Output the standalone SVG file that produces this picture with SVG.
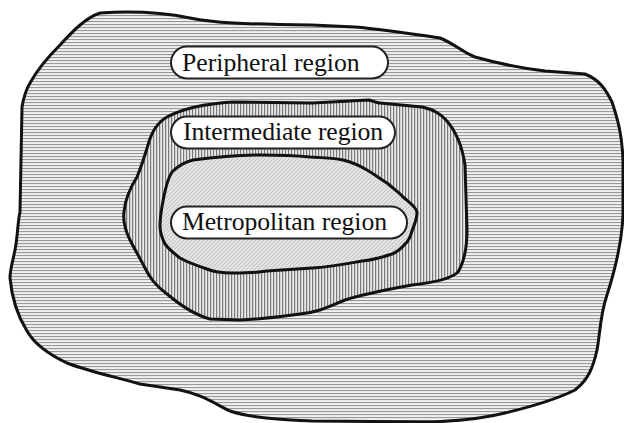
<svg xmlns="http://www.w3.org/2000/svg" width="624" height="423" viewBox="0 0 624 423">
<defs>
<pattern id="hz" width="6" height="3" patternUnits="userSpaceOnUse">
<rect width="6" height="3" fill="#f0f0f0"/>
<rect y="0" width="6" height="1.1" fill="#989898"/>
</pattern>
<pattern id="vt" width="3" height="6" patternUnits="userSpaceOnUse">
<rect width="3" height="6" fill="#e8e8e8"/>
<rect x="0" width="1.2" height="6" fill="#7a7a7a"/>
</pattern>
<pattern id="dg" width="4" height="4" patternUnits="userSpaceOnUse">
<rect width="4" height="4" fill="#e2e2e2"/>
<path d="M0,4 L4,0" stroke="#bcbcbc" stroke-width="0.8"/>
</pattern>
<style>
.region{stroke:#111;stroke-width:3;stroke-linejoin:round}
.pill{fill:#fff;stroke:#222;stroke-width:2}
.lbl{font-family:"Liberation Serif","Times New Roman",serif;font-size:25.7px;fill:#111}
</style>
</defs>
<rect width="624" height="423" fill="#fff"/>
<g id="peripheral">
<path class="region" fill="url(#hz)" d="M100,13 C130,11 160,12 190,18 C215,23 240,24 312,25 L355,27 C380,29 400,32 440,38 C455,44 462,52 475,57 C500,64 520,68 545,71 L585,74 C600,80 606,90 612,102 C618,120 622,135 623,160 L623,215 C622,240 615,270 607,295 C600,315 600,335 597,350 C593,368 588,380 575,390 C555,400 530,407 505,413 C485,418 460,421 430,422 L312,421 C280,420 250,418 230,411 C212,402 200,394 180,390 L140,384 C120,378 90,372 67,363 C50,355 35,345 27,331 C17,315 12,300 10,278 C10,268 14,258 16,244 C18,230 18,220 20,212 L22,107 C24,95 27,88 30,83 C36,72 45,60 60,45 C72,32 85,18 100,13 Z"/>
<rect class="pill" x="171" y="46.5" width="217" height="32" rx="16"/>
<text class="lbl" x="182" y="71">Peripheral region</text>
</g>
<g id="intermediate">
<path class="region" fill="url(#vt)" d="M233,102 L312,103 L369,100 C375,102 378,103 380,103 L422,107 C432,109 440,113 446,120 C455,130 462,145 465,165 L467,230 C467,250 464,262 458,272 C450,280 430,283 412,285 C390,289 360,295 345,300 C330,306 320,312 300,314 C280,317 260,319 240,320 L210,319 C195,315 180,305 167,294 C155,285 150,278 145,268 C140,258 135,250 130,240 C125,230 123,220 124,212 C125,200 130,188 137,177 C142,165 145,155 148,145 C152,130 158,122 167,117 C180,110 200,104 233,102 Z"/>
<rect class="pill" x="171" y="116.5" width="224" height="32" rx="16"/>
<text class="lbl" x="183" y="140" textLength="200">Intermediate region</text>
</g>
<g id="metropolitan">
<path class="region" fill="url(#dg)" d="M193,160 C215,157 240,155 260,155 C280,155 300,156 310,157 C325,158 335,158 343,160 C355,163 362,167 367,170 C377,176 382,180 387,183 C395,190 400,193 403,197 C410,203 416,207 417,212 C417,220 414,225 412,231 C410,238 408,242 405,244 C400,250 397,252 392,254 C380,258 372,260 362,261 C345,264 330,267 312,268 C295,269 280,270 267,271 C255,273 245,273 233,273 C222,273 214,272 207,269 C195,265 187,262 180,258 C172,252 168,248 165,244 C161,236 160,232 160,226 C160,215 162,206 164,196 C166,186 168,178 172,172 C178,166 185,162 193,160 Z"/>
<rect class="pill" x="171" y="206.5" width="236" height="32" rx="16"/>
<text class="lbl" x="182" y="230" textLength="205">Metropolitan region</text>
</g>
</svg>
